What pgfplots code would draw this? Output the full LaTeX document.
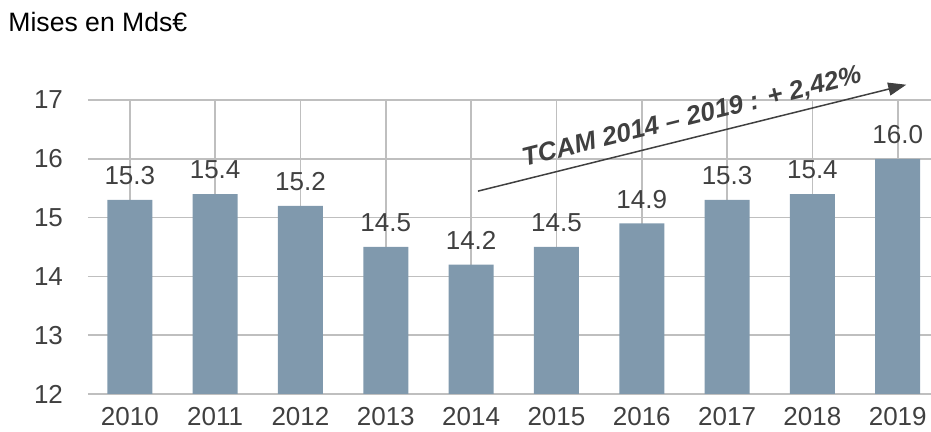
\documentclass[border=0pt]{standalone}
\usepackage{fontspec}
\setmainfont{Liberation Sans}
\usepackage{pgfplots}
\pgfplotsset{compat=1.18}
\usetikzlibrary{arrows.meta}
\definecolor{barcol}{HTML}{8099AD}
\definecolor{txt}{HTML}{404040}
\definecolor{grid}{HTML}{D9D9D9}

\begin{document}
\begin{tikzpicture}
\begin{axis}[
    at={(0,0)}, anchor=south west,
    scale only axis,
    width=421.5pt, height=147pt,
    ybar, bar width=22.5pt,
    xmin=-0.49, xmax=9.39,
    ymin=12, ymax=17,
    ytick={12,...,17},
    xtick=data,
    xticklabels={2010,2011,2012,2013,2014,2015,2016,2017,2018,2019},
    axis line style={draw=none},
    ymajorgrids, grid style={grid, line width=0.8pt},
    major tick length=0pt,
    tick label style={font=\fontsize{13}{15}\selectfont, text=txt},
    yticklabel style={xshift=-9pt},
    xticklabel style={yshift=-3pt},
    /pgf/number format/assume math mode=true,
    nodes near coords,
    nodes near coords style={font=\fontsize{13}{15}\selectfont, text=txt, yshift=4pt,
        /pgf/number format/fixed, /pgf/number format/fixed zerofill, /pgf/number format/precision=1},
    clip=false,
]
\addplot[fill=barcol, draw=none] coordinates {
    (0,15.3) (1,15.4) (2,15.2) (3,14.5) (4,14.2)
    (5,14.5) (6,14.9) (7,15.3) (8,15.4) (9,16.0)};
\draw[txt, line width=0.75pt, -{Triangle[length=9pt,width=6.5pt]}]
    (axis cs:4.08,15.45) -- (axis cs:9.10,17.26);
\node[rotate=14, text=txt, font=\fontsize{13}{15}\selectfont\bfseries\itshape]
    at (axis cs:6.59,16.70) {TCAM 2014 – 2019 : + 2,42\%};
\end{axis}
\node[anchor=west, text=black, font=\fontsize{13.3}{15}\selectfont, inner sep=0pt] at (-40pt,186pt) {Mises en Mds€};
\pgfresetboundingbox
\path[use as bounding box] (-44pt,-19pt) rectangle (421.5pt,197pt);
\end{tikzpicture}
\end{document}
